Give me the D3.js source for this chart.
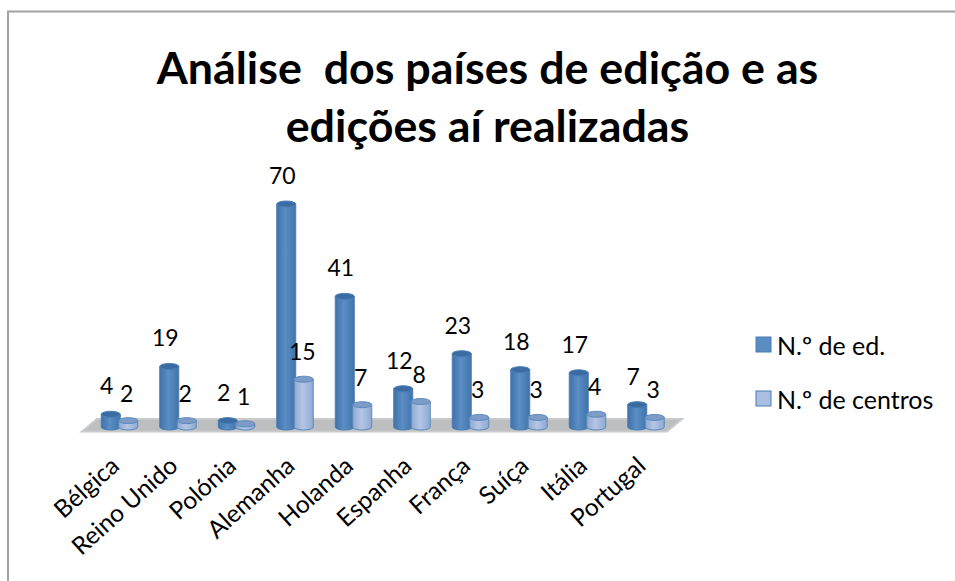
<!DOCTYPE html>
<html lang="pt">
<head>
	<meta charset="UTF-8" />
	<title>Análise dos países de edição</title>
	<script src="https://cdn.jsdelivr.net/npm/d3@7/dist/d3.min.js"></script>
	<style>
		body { margin: 0; background: #fff; }
		text { font-family: Lato, "Open Sans", sans-serif; fill: #000; }
	</style>
</head>
<body>
	<svg id="vis" width="955" height="581"></svg>
	<script>
		var paises = ["Bélgica", "Reino Unido", "Polónia", "Alemanha", "Holanda", "Espanha", "França", "Suíça", "Itália", "Portugal"];
		var edicoes = [4, 19, 2, 70, 41, 12, 23, 18, 17, 7];
		var centros = [2, 2, 1, 15, 7, 8, 3, 3, 4, 3];
		var nomesSeries = ["N.º de ed.", "N.º de centros"];
		var titulo = ["Análise  dos países de edição e as", "edições aí realizadas"];

		var svg = d3.select("#vis");
		var defs = svg.append("defs");

		function gradiente(id, c0, c1, c2) {
			var g = defs.append("linearGradient").attr("id", id);
			g.append("stop").attr("offset", "0%").attr("stop-color", c0);
			g.append("stop").attr("offset", "45%").attr("stop-color", c1);
			g.append("stop").attr("offset", "100%").attr("stop-color", c2);
		}
		gradiente("gradEd", "#3f72a8", "#5b8ec4", "#3f74ab");
		gradiente("gradCe", "#8fa9d2", "#b4c6e6", "#8ea9d3");

		// Moldura
		svg.append("path")
			.attr("d", "M8,581V11.5H955")
			.attr("fill", "none")
			.attr("stroke", "#a3a3a3")
			.attr("stroke-width", 2);

		// Titulo
		svg.selectAll(".titulo")
			.data(titulo)
			.enter().append("text")
			.attr("x", 487.5)
			.attr("y", function(d, i) { return 84 + i * 58; })
			.attr("text-anchor", "middle")
			.style("font-size", "44.8px")
			.style("font-weight", "bold")
			.style("white-space", "pre")
			.text(function(d) { return d; });

		// Escalas
		var scaleX = d3.scaleBand().domain(paises).range([90.5, 675.5]);
		var scaleY = d3.scaleLinear().domain([0, 70]).range([427, 204]);
		var largura = 19;

		// Chao
		svg.append("path")
			.attr("d", "M82,431.5L97,419H682L667,431.5Z")
			.attr("fill", "#bcbec0")
			.attr("stroke", "#c9cacb")
			.attr("stroke-width", 2);

		function desenhaSerie(valores, dx, grad, topo, borda, dxTexto, offset) {
			var g = svg.append("g");
			paises.forEach(function(p, i) {
				var cx = scaleX(p) + scaleX.bandwidth() / 2 + dx;
				var y = scaleY(valores[i]);
				var base = scaleY(0);
				var rx = largura / 2;
				g.append("path")
					.attr("d", "M" + (cx - rx) + "," + y + "V" + base + "A" + rx + ",3 0 0 0 " + (cx + rx) + "," + base + "V" + y + "Z")
					.attr("fill", "url(#" + grad + ")")
					.attr("stroke", borda)
					.attr("stroke-width", 1);
				g.append("ellipse")
					.attr("cx", cx).attr("cy", y)
					.attr("rx", rx).attr("ry", 3)
					.attr("fill", topo)
					.attr("stroke", borda)
					.attr("stroke-width", 1);
				svg.append("text")
					.attr("x", cx + dxTexto)
					.attr("y", y - offset)
					.attr("text-anchor", "middle")
					.style("font-size", "23px")
					.text(valores[i]);
			});
		}
		desenhaSerie(edicoes, -9, "gradEd", "#3a6ca3", "#4a7db5", -4, 20);
		desenhaSerie(centros, 8.5, "gradCe", "#7f9cc8", "#5a8abd", -1.5, 19);

		// Eixo X
		var xAxis = d3.axisBottom(scaleX).tickSize(0);
		var gx = svg.append("g")
			.attr("transform", "translate(0,440)")
			.call(xAxis);
		gx.select(".domain").remove();
		gx.selectAll("text")
			.attr("x", 0).attr("y", 0).attr("dy", 0)
			.attr("text-anchor", "end")
			.attr("transform", function() { return "translate(1,28) rotate(-42)"; })
			.style("font-size", "24.5px");

		// Legenda
		var cores = ["#5a8cc2", "#aabfe0"];
		var legenda = svg.selectAll(".leg")
			.data(nomesSeries)
			.enter().append("g")
			.attr("transform", function(d, i) { return "translate(756," + (337 + i * 54) + ")"; });
		legenda.append("rect")
			.attr("width", 15).attr("height", 15)
			.attr("fill", function(d, i) { return cores[i]; })
			.attr("stroke", "#4a7db5");
		legenda.append("text")
			.attr("x", 21).attr("y", 18)
			.style("font-size", "25px")
			.text(function(d) { return d; });
	</script>
</body>
</html>
